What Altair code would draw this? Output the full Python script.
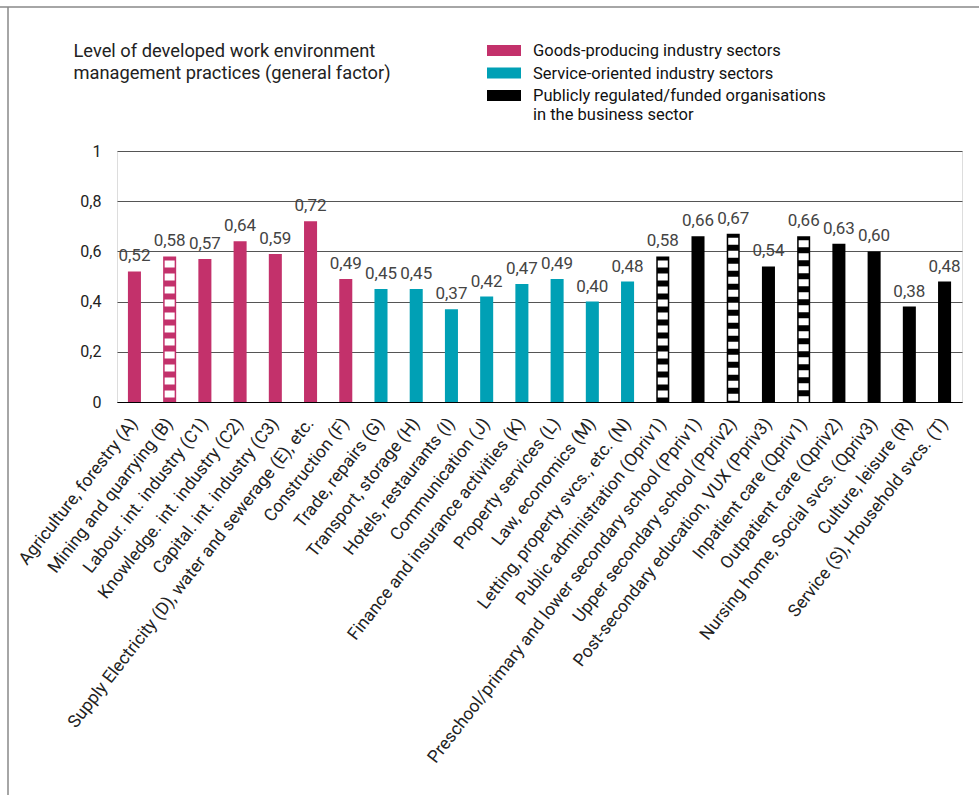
import altair as alt
import pandas as pd

sectors = [
    "Agriculture, forestry (A)",
    "Mining and quarrying (B)",
    "Labour. int. industry (C1)",
    "Knowledge. int. industry (C2)",
    "Capital. int. industry (C3)",
    "Supply Electricity (D), water and sewerage (E), etc.",
    "Construction (F)",
    "Trade, repairs (G)",
    "Transport, storage (H)",
    "Hotels, restaurants (I)",
    "Communication (J)",
    "Finance and insurance activities (K)",
    "Property services (L)",
    "Law, economics (M)",
    "Letting, property svcs., etc. (N)",
    "Public administration (Opriv1)",
    "Preschool/primary and lower secondary school (Ppriv1)",
    "Upper secondary school (Ppriv2)",
    "Post-secondary education, VUX (Ppriv3)",
    "Inpatient care (Qpriv1)",
    "Outpatient care (Qpriv2)",
    "Nursing home, Social svcs. (Qpriv3)",
    "Culture, leisure (R)",
    "Service (S), Household svcs. (T)",
]
values = [0.52, 0.58, 0.57, 0.64, 0.59, 0.72, 0.49,
          0.45, 0.45, 0.37, 0.42, 0.47, 0.49, 0.40, 0.48,
          0.58, 0.66, 0.67, 0.54, 0.66, 0.63, 0.60, 0.38, 0.48]
group_names = [
    "Goods-producing industry sectors",
    "Service-oriented industry sectors",
    "Publicly regulated/funded organisations|in the business sector",
]
group_index = [0] * 7 + [1] * 8 + [2] * 9
hatched = [False, True, False, False, False, False, False,
           False, False, False, False, False, False, False, False,
           True, False, True, False, True, False, False, False, False]
colors = ["#C3316B", "#00A0B5", "#000000"]
title_lines = ["Level of developed work environment",
               "management practices (general factor)"]

df = pd.DataFrame({
    "sector": sectors,
    "value": values,
    "group": [group_names[i] for i in group_index],
    "hatched": hatched,
})

FONT = "Roboto"

x_enc = alt.X(
    "sector:N", sort=sectors, title=None,
    scale=alt.Scale(paddingInner=0.63, paddingOuter=0.31),
    axis=alt.Axis(labelAngle=-52, labelAlign="right", labelBaseline="middle",
                  labelFontSize=17.5, labelColor="#222", labelPadding=18,
                  labelLimit=700, ticks=False, domain=True,
                  domainColor="#000", domainWidth=1, labelFont=FONT),
)
y_enc = alt.Y(
    "value:Q", title=title_lines,
    scale=alt.Scale(domain=[0, 1]),
    axis=alt.Axis(values=[0, 0.2, 0.4, 0.6, 0.8, 1],
                  labelExpr="replace(toString(datum.value), '.', ',')",
                  grid=True, gridColor="#555", gridWidth=1, domain=False,
                  ticks=False, labelPadding=16, labelFontSize=16,
                  labelColor="#222", labelFont=FONT,
                  titleAngle=0, titleX=-44, titleY=-95,
                  titleAlign="left", titleBaseline="alphabetic",
                  titleFontSize=18.3, titleFontWeight="normal",
                  titleFont=FONT, titleColor="#222", titleLineHeight=22),
)

base = alt.Chart(df)

bars = base.mark_bar().encode(
    x=x_enc,
    y=y_enc,
    color=alt.Color(
        "group:N",
        scale=alt.Scale(domain=group_names, range=colors),
        legend=alt.Legend(
            title=None, orient="none", legendX=370, legendY=-112,
            symbolType="M-1,-0.65L1,-0.65L1,0L-1,0Z",
            symbolSize=1156, symbolStrokeWidth=0, symbolOpacity=1,
            labelFontSize=16.5, labelFont=FONT, labelColor="#111",
            labelBaseline="alphabetic", labelOffset=12, rowPadding=1.5,
            labelLimit=600, padding=0,
            labelExpr="split(datum.label, '|')",
        ),
    ),
)

hatch = base.transform_filter("datum.hatched").mark_rule(
    color="white", strokeWidth=10, strokeDash=[7, 6], strokeDashOffset=-4
).encode(
    x=alt.X("sector:N", sort=sectors),
    y=alt.Y("value:Q"),
    y2=alt.Y2(datum=0),
)

labels = base.transform_calculate(
    lbl="replace(format(datum.value, '.2f'), '.', ',')"
).mark_text(baseline="alphabetic", dy=-10, fontSize=17, color="#444",
            font=FONT).encode(
    x=alt.X("sector:N", sort=sectors),
    y=alt.Y("value:Q"),
    text="lbl:N",
)

frame_df = pd.DataFrame({"k": [0]})
frame_top = alt.Chart(frame_df).mark_rule(color="#888", strokeWidth=1.5).encode(
    x=alt.value(-117), x2=alt.value(862), y=alt.value(-144))
frame_left = alt.Chart(frame_df).mark_rule(color="#888", strokeWidth=1.5).encode(
    x=alt.value(-109), y=alt.value(-144), y2=alt.value(644))

chart = alt.layer(frame_top, frame_left, bars, hatch, labels).properties(
    width=845, height=251,
    padding={"left": 117, "top": 151, "right": 17, "bottom": 393},
    autosize=alt.AutoSizeParams(type="none"),
).configure_view(stroke=None).configure(background="white")

chart.save("out.html", embed_options={"renderer": "svg", "actions": False})
